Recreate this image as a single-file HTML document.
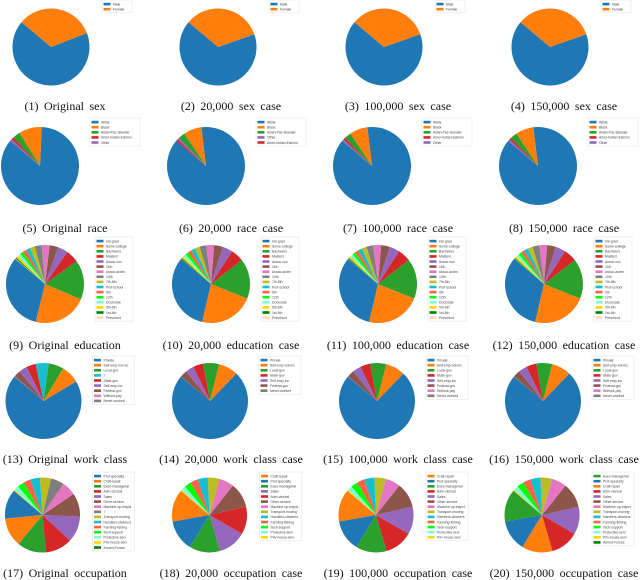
<!DOCTYPE html>
<html><head><meta charset="utf-8">
<style>
html,body{margin:0;padding:0;background:#fff;}
svg{display:block;}
.cap{font-family:"Liberation Serif",serif;font-size:12px;fill:#111;word-spacing:2.5px;}
.lg{font-family:"Liberation Sans",sans-serif;font-size:3.4px;fill:#444;}
</style></head>
<body>
<svg id="fig" width="640" height="580" viewBox="0 0 640 580" xmlns="http://www.w3.org/2000/svg"></svg>
<script>
// ---- data ----
const sexCats = ["Male","Female"];
const sexOrig = [67,33];
const sex20k = [66.5,33.5];
const sex100k = [66.5,33.5];
const sex150k = [66.5,33.5];

const raceCatsOrig = ["White","Black","Asian-Pac-Islander","Amer-Indian-Eskimo","Other"];
const raceOrig = [85.4,9.6,3.1,1.0,0.9];
const raceCats20k = ["White","Black","Asian-Pac-Islander","Other","Amer-Indian-Eskimo"];
const race20k = [88,7.5,2.8,0.9,0.8];
const raceCats100k = ["White","Black","Asian-Pac-Islander","Amer-Indian-Eskimo","Other"];
const race100k = [88,7.5,2.8,0.9,0.8];
const race150k = [88,7.5,2.8,0.9,0.8];

const eduCats = ["HS-grad","Some-college","Bachelors","Masters","Assoc-voc","11th","Assoc-acdm","10th","7th-8th","Prof-school","9th","12th","Doctorate","5th-6th","1st-4th","Preschool"];
const eduOrig = [32.3,22.4,16.4,5.3,4.2,3.6,3.3,2.9,2.0,1.7,1.6,1.3,1.3,1.0,0.5,0.2];
const edu20k = [32.5,22.6,16.6,5.4,4.2,3.6,3.3,2.8,2.0,1.7,1.5,1.3,1.2,0.9,0.4,0.1];
const edu100k = [32.5,22.6,16.6,5.4,4.2,3.6,3.3,2.8,2.0,1.7,1.5,1.3,1.2,0.9,0.4,0.1];
const edu150k = [32.5,22.6,16.6,5.4,4.2,3.6,3.3,2.8,2.0,1.7,1.5,1.3,1.2,0.9,0.4,0.1];

const workCatsOrig = ["Private","Self-emp-not-inc","Local-gov","?","State-gov","Self-emp-inc","Federal-gov","Without-pay","Never-worked"];
const workOrig = [69.7,7.8,6.4,5.6,4.0,3.4,2.9,0.1,0.1];
const workCats20k = ["Private","Self-emp-not-inc","Local-gov","State-gov","Self-emp-inc","Federal-gov","Never-worked"];
const work20k = [74,8.3,6.8,4.3,3.6,3.0,0.05];
const workCats100k = ["Private","Self-emp-not-inc","Local-gov","State-gov","Self-emp-inc","Federal-gov","Without-pay","Never-worked"];
const work100k = [74,8.3,6.8,4.3,3.6,3.0,0.05,0.05];
const work150k = [74,8.3,6.8,4.3,3.6,3.0,0.05,0.05];

const occCatsOrig = ["Prof-specialty","Craft-repair","Exec-managerial","Adm-clerical","Sales","Other-service","Machine-op-inspct","?","Transport-moving","Handlers-cleaners","Farming-fishing","Tech-support","Protective-serv","Priv-house-serv","Armed-Forces"];
const occOrig = [12.7,12.5,12.5,11.6,11.3,10.1,6.2,5.7,4.8,4.2,3.1,2.9,2.0,0.5,0.1];
const occCats20k = ["Craft-repair","Prof-specialty","Exec-managerial","Sales","Adm-clerical","Other-service","Machine-op-inspct","Transport-moving","Handlers-cleaners","Farming-fishing","Tech-support","Protective-serv","Priv-house-serv"];
const occ20k = [14,13.5,13.3,12.2,12,10.7,6.5,5,4.4,3.3,3,2,0.5];
const occCats100k = ["Craft-repair","Prof-specialty","Exec-managerial","Adm-clerical","Sales","Other-service","Machine-op-inspct","Transport-moving","Handlers-cleaners","Farming-fishing","Tech-support","Protective-serv","Priv-house-serv"];
const occ100k = [14,13.5,13.3,12.2,12,10.7,6.5,5,4.4,3.3,3,2,0.5];
const occCats150k = ["Exec-managerial","Prof-specialty","Craft-repair","Adm-clerical","Sales","Other-service","Machine-op-inspct","Transport-moving","Handlers-cleaners","Farming-fishing","Tech-support","Protective-serv","Priv-house-serv","Armed-Forces"];
const occ150k = [14,13.5,13.3,12.2,12,10.7,6.5,5,4.4,3.3,3,2,0.5,0.1];

const captions = [
 "(1) Original sex","(2) 20,000 sex case","(3) 100,000 sex case","(4) 150,000 sex case",
 "(5) Original race","(6) 20,000 race case","(7) 100,000 race case","(8) 150,000 race case",
 "(9) Original education","(10) 20,000 education case","(11) 100,000 education case","(12) 150,000 education case",
 "(13) Original work class","(14) 20,000 work class case","(15) 100,000 work class case","(16) 150,000 work class case",
 "(17) Original occupation","(18) 20,000 occupation case","(19) 100,000 occupation case","(20) 150,000 occupation case"];

// ---- styles (category -> colour) ----
const T=["#1f77b4","#ff7f0e","#2ca02c","#d62728","#9467bd","#8c564b","#e377c2","#7f7f7f","#bcbd22","#17becf"];
const colorOf = {
 "Male":T[0],"Female":T[1],
 "White":T[0],"Black":T[1],"Asian-Pac-Islander":T[2],
 "HS-grad":T[0],"Some-college":T[1],"Bachelors":T[2],"Masters":T[3],"Assoc-voc":T[4],"11th":T[5],"Assoc-acdm":T[6],"10th":T[7],"7th-8th":T[8],"Prof-school":T[9],"9th":"#ff6347","12th":"#00ff00","Doctorate":"#7fffd4","5th-6th":"#ffd700","1st-4th":"#008000","Preschool":"#ffdab9",
 "Prof-specialty":T[0],"Craft-repair":T[1],"Exec-managerial":T[2],"Adm-clerical":T[3],"Sales":T[4],"Other-service":T[5],"Machine-op-inspct":T[6],"Transport-moving":T[8],"Handlers-cleaners":T[9],"Farming-fishing":"#ff6347","Tech-support":"#00ff00","Protective-serv":"#7fffd4","Priv-house-serv":"#ffd700","Armed-Forces":"#008000"
};
function colorFor(row,idx,cat){
  if(row===1){
    if(cat==="Amer-Indian-Eskimo") return T[3];
    if(cat==="Other") return T[4];
  }
  if(row===3){
    const m={"Private":T[0],"Self-emp-not-inc":T[1],"Local-gov":T[2],"?":T[9],"State-gov":T[3],"Self-emp-inc":T[4],"Federal-gov":T[5],"Without-pay":T[6],"Never-worked":T[7]};
    return m[cat];
  }
  if(row===4 && cat==="?") return T[7];
  return colorOf[cat]||T[idx%10];
}

const charts = [
 [sexCats,sexOrig],[sexCats,sex20k],[sexCats,sex100k],[sexCats,sex150k],
 [raceCatsOrig,raceOrig],[raceCats20k,race20k],[raceCats100k,race100k],[raceCats100k,race150k],
 [eduCats,eduOrig],[eduCats,edu20k],[eduCats,edu100k],[eduCats,edu150k],
 [workCatsOrig,workOrig],[workCats20k,work20k],[workCats100k,work100k],[workCats100k,work150k],
 [occCatsOrig,occOrig],[occCats20k,occ20k],[occCats100k,occ100k],[occCats150k,occ150k]
];
const rowNames=["sex","race","education","work-class","occupation"];

// ---- layout ----
const pieX=[[51,218,384,550],[40,206,372,538],[45,211,378,544],[43.5,210,377,543],[42.5,209.5,376,542]];
const pieY=[47,166,284,401,515];
const pieR=[38.5,39,39,38,37.5];
const legTop=[0,118,237,356,472];
const legW=[30,50,38,42,42];
const legDX=[51,50,50,49,50];
const capX=[65,231,398,564];
const capY=[110,232,349,463,577];
const START=140;

const NS="http://www.w3.org/2000/svg";
const svg=document.getElementById("fig");
function mk(tag,attrs,parent){const e=document.createElementNS(NS,tag);for(const k in attrs)e.setAttribute(k,attrs[k]);(parent||svg).appendChild(e);return e;}
function pt(cx,cy,r,deg){const a=deg*Math.PI/180;return [cx+r*Math.cos(a),cy-r*Math.sin(a)];}

charts.forEach((ch,i)=>{
  const row=Math.floor(i/4), col=i%4;
  const cats=ch[0], vals=ch[1];
  const cx=pieX[row][col], cy=pieY[row], r=pieR[row];
  const g=mk("g",{});
  
  
  const total=vals.reduce((a,b)=>a+b,0);
  let ang=START;
  vals.forEach((v,k)=>{
    const span=v/total*360;
    const p0=pt(cx,cy,r,ang), p1=pt(cx,cy,r,ang+span);
    const large=span>180?1:0;
    const d=`M${cx},${cy} L${p0[0].toFixed(2)},${p0[1].toFixed(2)} A${r},${r} 0 ${large} 0 ${p1[0].toFixed(2)},${p1[1].toFixed(2)} Z`;
    const s=mk("path",{d:d,fill:colorFor(row,k,cats[k])},g);
    
    
    ang+=span;
  });
  const lx=cx+legDX[row], ly=legTop[row], rowH=5.1, h=cats.length*rowH+2.5;
  const lg=mk("g",{});
  
  
  mk("rect",{x:lx,y:ly,width:legW[row],height:h,fill:"#fff",stroke:"#e0e0e0","stroke-width":0.5},lg);
  cats.forEach((c,k)=>{
    const yy=ly+2+k*rowH;
    const e=mk("g",{},lg);
    
    
    mk("rect",{x:lx+1.5,y:yy+0.8,width:7,height:2.6,fill:colorFor(row,k,c)},e);
    const t=mk("text",{x:lx+11,y:yy+3.4,class:"lg"},e);
    t.textContent=c;
  });
  const cap=mk("text",{x:capX[col],y:capY[row],"text-anchor":"middle",class:"cap"});
  
  
  cap.textContent=captions[i];
});
</script>
</body></html>
